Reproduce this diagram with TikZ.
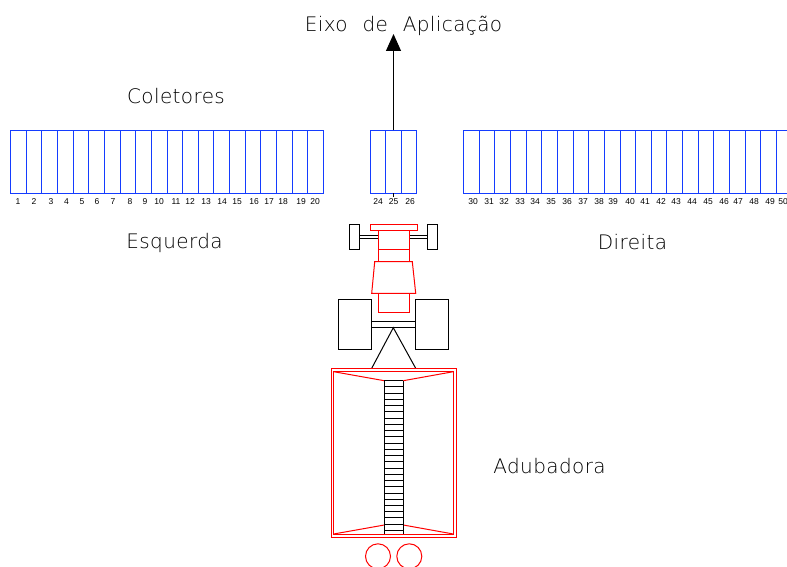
\documentclass[tikz,border=0pt]{standalone}
\usepackage{fontspec}
\setmainfont{Liberation Sans}
\newfontfamily\rotulofont[LetterSpace=2,WordSpace=2.2]{DejaVu Sans ExtraLight}
\usetikzlibrary{arrows.meta}
\definecolor{azul}{RGB}{20,60,255}

\tikzset{
    coletor/.style={draw=azul, line width=1pt, minimum width=15.65pt, minimum height=62.5pt, inner sep=0pt, outer sep=0pt},
    numero/.style={font=\fontsize{8.5}{10}\selectfont, inner sep=0pt},
    rotulo/.style={font=\rotulofont\fontsize{20}{24}\selectfont, inner sep=0pt, anchor=base},
    preto/.style={draw=black, line width=1pt},
    vermelho/.style={draw=red, line width=1pt}
}

\begin{document}
\begin{tikzpicture}[x=1pt, y=-1pt]
    \useasboundingbox (0,0) rectangle (787,567);

    % Labels
    \node at (403.5,32) [rotulo] (eixo) {Eixo de Aplicação};
    \node at (176,104) [rotulo] (coletores) {Coletores};
    \node at (174.5,248) [rotulo] (esquerda) {Esquerda};
    \node at (632.5,249) [rotulo] (direita) {Direita};
    \node at (549.5,473) [rotulo] (adubadora) {Adubadora};

    % Left collectors
    \foreach \n/\lx in {1/18,2/34,3/51,4/66.5,5/82,6/97,7/113,8/130,9/145,10/159,11/176,12/190,13/206,14/222,15/237,16/254,17/269,18/283,19/301,20/315} {
        \pgfmathsetmacro{\cx}{10.5+7.825+15.65*(\n-1)}
        \node at (\cx,161.75) [coletor] (c\n) {};
        \node at (\lx,201.5) [numero] (n\n) {\n};
    }

    % Centre collectors
    \foreach \n/\cx/\lx in {24/377.85/378,25/393.5/393.5,26/409.15/410} {
        \node at (\cx,161.75) [coletor] (c\n) {};
        \node at (\lx,201.5) [numero] (n\n) {\n};
    }

    % Right collectors
    \foreach \n/\lx in {30/473,31/489,32/504,33/520,34/535,35/551,36/567,37/583,38/599,39/613,40/630,41/645,42/661,43/676,44/692,45/708,46/724,47/738,48/754,49/770,50/783} {
        \pgfmathsetmacro{\cx}{463.5+7.825+15.65*(\n-30)}
        \node at (\cx,161.75) [coletor] (c\n) {};
        \node at (\lx,201.5) [numero] (n\n) {\n};
    }

    % Application axis
    \coordinate (ponta) at (393.5,34);
    \draw [preto, -{Triangle[length=17pt,width=15pt]}] (c25.north) -- (ponta);
    \draw [preto] (c25.south) -- ++(0,3.5);

    % Tractor front
    \draw [preto] (349.7,224.3) rectangle (359.3,249.3);
    \draw [preto] (427.7,224.3) rectangle (437.3,249.3);
    \draw [preto] (359.3,235) -- ++(18.7,0);
    \draw [preto] (359.3,238.3) -- ++(18.7,0);
    \draw [preto] (409.3,235) -- ++(18.4,0);
    \draw [preto] (409.3,238.3) -- ++(18.4,0);

    % Tractor body
    \draw [vermelho] (370,224.3) rectangle (417.3,230.7);
    \draw [vermelho] (378,230.7) rectangle (409.3,261.7);
    \draw [vermelho] (378,249.3) -- ++(31.3,0);
    \draw [vermelho] (374.7,261.7) -- (412.3,261.7) -- (415.7,293.3) -- (371.7,293.3) -- cycle;
    \draw [vermelho] (378,293.3) rectangle (409.3,312.3);

    % Tractor rear
    \draw [preto] (338.7,299.3) rectangle (371.7,349.7);
    \draw [preto] (415.3,299.3) rectangle (448.3,349.7);
    \draw [preto] (371.7,321.3) -- ++(43.6,0);
    \draw [preto] (371.7,327.7) -- ++(43.6,0);
    \draw [preto] (371.7,368.3) -- (393.3,327.7) -- (415.7,368.3);

    % Spreader
    \draw [vermelho] (331,368.3) rectangle (456.3,537.3);
    \draw [vermelho] (333.7,371.7) rectangle (453.3,534);
    \draw [vermelho] (333.7,371.7) -- (384.3,380.7);
    \draw [vermelho] (453.3,371.7) -- (403.3,380.7);
    \draw [vermelho] (333.7,534) -- (384.3,525);
    \draw [vermelho] (453.3,534) -- (403.3,525);

    % Conveyor
    \draw [preto] (384.3,380.7) -- ++(0,153.3);
    \draw [preto] (403.3,380.7) -- ++(0,153.3);
    \foreach \i in {0,...,24} {
        \draw [preto] (384.3,380.7+6.24*\i) -- ++(19,0);
    }

    % Spreader wheels
    \draw [vermelho] (378,556.3) circle [radius=12.5pt];
    \draw [vermelho] (409.3,556.3) circle [radius=12.5pt];
\end{tikzpicture}
\end{document}
